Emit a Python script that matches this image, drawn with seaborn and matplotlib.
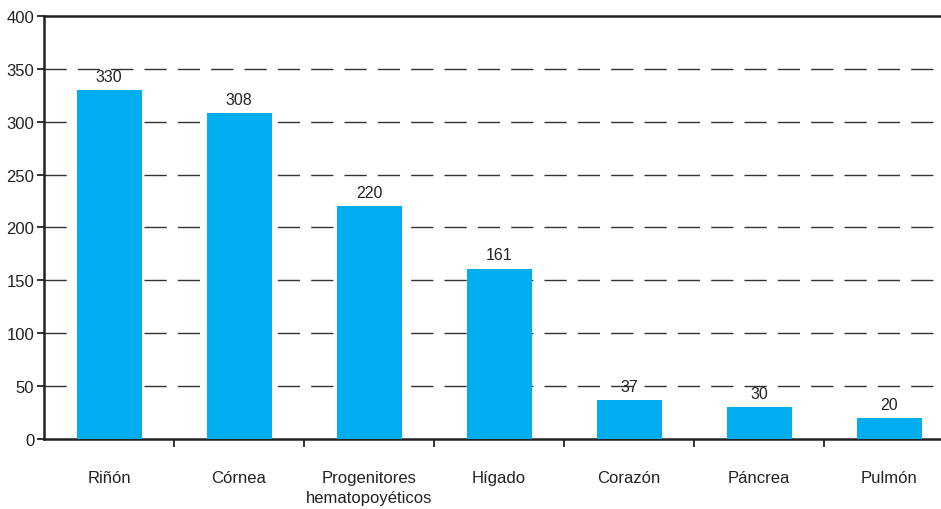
import matplotlib
matplotlib.use("Agg")
import matplotlib.pyplot as plt
import seaborn as sns
import pandas as pd
import numpy as np

# Data
organos = ["Riñón", "Córnea", "Progenitores\nhematopoyéticos", "Hígado",
           "Corazón", "Páncrea", "Pulmón"]
valores = [330, 308, 220, 161, 37, 30, 20]
y_ticks = [0, 50, 100, 150, 200, 250, 300, 350, 400]

df = pd.DataFrame({"organo": organos, "valor": valores})

sns.set_style("white")
plt.rcParams["font.family"] = ["Liberation Sans", "DejaVu Sans"]

fig = plt.figure(figsize=(9.41, 5.10), dpi=100)
ax = fig.add_axes([44 / 941, 1 - 440 / 510, 910 / 941, 423 / 510])

sns.barplot(data=df, x="organo", y="valor", color="#00AEEF",
            saturation=1, width=0.5, linewidth=0, ax=ax, zorder=3)

# value labels
for i, v in enumerate(valores):
    ax.text(i, v + 6, str(v), ha="center", va="bottom", fontsize=11.5, color="#222222")

ax.set_ylim(0, 400)
ax.set_xlim(-0.5, len(organos) - 0.5)
ax.set_yticks(y_ticks)
ax.set_yticklabels([str(t) for t in y_ticks], fontsize=12, color="#222222")

# dashed gridlines (skip 0 and 400)
for t in y_ticks[1:-1]:
    ax.axhline(t, color="#333333", lw=1.0, dashes=(16, 8), zorder=1)

# category ticks on boundaries, labels at centers
ax.set_xticks(np.arange(len(organos)) + 0.5)
ax.set_xticklabels([])
ax.set_xticks(np.arange(len(organos)), minor=True)
ax.set_xticklabels(organos, minor=True, fontsize=12, color="#222222", linespacing=1.45)
ax.tick_params(axis="x", which="minor", length=0, pad=22)
ax.tick_params(axis="x", which="major", length=6, width=1.3, color="#222222", direction="out")
ax.tick_params(axis="y", length=5, width=1.3, color="#222222", direction="out", pad=2)
ax.tick_params(axis="both", bottom=True, left=True)

ax.set_xlabel("")
ax.set_ylabel("")
for side in ["left", "bottom", "top"]:
    ax.spines[side].set_visible(True)
    ax.spines[side].set_color("#222222")
    ax.spines[side].set_linewidth(1.8)
ax.spines["right"].set_visible(False)

fig.savefig("out.png", dpi=100)
